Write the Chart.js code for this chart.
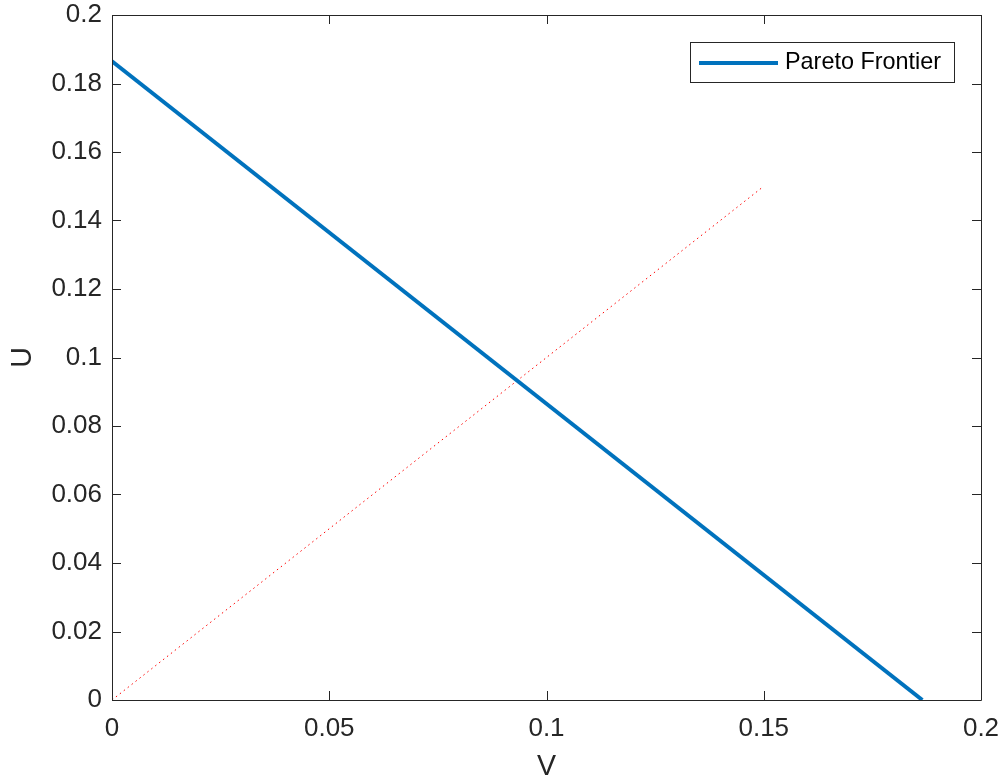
<!DOCTYPE html>
<html>
<head>
<meta charset="utf-8">
<script src="https://cdn.jsdelivr.net/npm/chart.js@4.4.1/dist/chart.umd.min.js"></script>
<style>
  html, body { margin: 0; padding: 0; background: #fff; }
  #wrap { width: 1004px; height: 781px; }
</style>
</head>
<body>
<div id="wrap"><canvas id="c" width="1004" height="781"></canvas></div>
<script>
// Dữ liệu
const frontierV = [0, 0.1865];
const frontierU = [0.1865, 0];
const diagV = [0, 0.15];
const diagU = [0, 0.15];
const xTicks = [0, 0.05, 0.1, 0.15, 0.2];
const yTicks = [0, 0.02, 0.04, 0.06, 0.08, 0.1, 0.12, 0.14, 0.16, 0.18, 0.2];
const legendLabel = 'Pareto Frontier';

const AXIS_COLOR = '#262626';
const FONT = 'Liberation Sans, Arial, Helvetica, sans-serif';

function toPoints(xs, ys) {
  return xs.map((x, i) => ({ x: x, y: ys[i] }));
}

// Vẽ khung + vạch chia hướng vào trong (kiểu MATLAB)
const boxPlugin = {
  id: 'box',
  afterDatasetsDraw(chart) {
    const { ctx, chartArea: a, scales } = chart;
    const len = 9;
    ctx.save();
    ctx.strokeStyle = AXIS_COLOR;
    ctx.lineWidth = 1;
    ctx.beginPath();
    ctx.rect(a.left + 0.5, a.top + 0.5, a.right - a.left, a.bottom - a.top);
    xTicks.forEach(v => {
      const px = Math.round(scales.x.getPixelForValue(v)) + 0.5;
      ctx.moveTo(px, a.bottom); ctx.lineTo(px, a.bottom - len);
      ctx.moveTo(px, a.top); ctx.lineTo(px, a.top + len);
    });
    yTicks.forEach(v => {
      const py = Math.round(scales.y.getPixelForValue(v)) + 0.5;
      ctx.moveTo(a.left, py); ctx.lineTo(a.left + len, py);
      ctx.moveTo(a.right, py); ctx.lineTo(a.right - len, py);
    });
    ctx.stroke();

    // Chú thích
    const lx = 690, ly = 42, lw = 264, lh = 40;
    ctx.fillStyle = '#fff';
    ctx.fillRect(lx, ly, lw, lh);
    ctx.strokeStyle = AXIS_COLOR;
    ctx.strokeRect(lx + 0.5, ly + 0.5, lw, lh);
    ctx.strokeStyle = '#0072BD';
    ctx.lineWidth = 4;
    ctx.beginPath();
    ctx.moveTo(699, ly + lh / 2 + 1);
    ctx.lineTo(778, ly + lh / 2 + 1);
    ctx.stroke();
    ctx.fillStyle = '#000';
    ctx.font = '23.4px ' + FONT;
    ctx.textBaseline = 'middle';
    ctx.fillText(legendLabel, 785, ly + lh / 2 + 1);
    ctx.restore();
  }
};

new Chart(document.getElementById('c'), {
  type: 'scatter',
  data: {
    datasets: [
      {
        label: legendLabel,
        data: toPoints(frontierV, frontierU),
        showLine: true,
        borderColor: '#0072BD',
        borderWidth: 4,
        pointRadius: 0
      },
      {
        label: 'diag',
        data: toPoints(diagV, diagU),
        showLine: true,
        borderColor: '#FF0000',
        borderWidth: 1,
        borderDash: [1.5, 3.5],
        pointRadius: 0
      }
    ]
  },
  options: {
    responsive: false,
    animation: false,
    layout: { padding: { top: 15, right: 23, left: 0, bottom: 0 } },
    plugins: { legend: { display: false }, tooltip: { enabled: false } },
    scales: {
      x: {
        type: 'linear',
        min: 0, max: 0.2,
        afterBuildTicks: s => { s.ticks = xTicks.map(v => ({ value: v })); },
        afterFit: s => { s.height = 81; s.paddingLeft = 0; s.paddingRight = 0; },
        grid: { display: false, drawTicks: false },
        border: { display: false },
        ticks: {
          color: AXIS_COLOR,
          font: { family: FONT, size: 26 },
          padding: 13,
          maxRotation: 0,
          callback: v => String(v)
        },
        title: {
          display: true, text: 'V', color: AXIS_COLOR,
          font: { family: FONT, size: 28.6 },
          padding: { top: 0, bottom: -3 }
        }
      },
      y: {
        type: 'linear',
        min: 0, max: 0.2,
        afterBuildTicks: s => { s.ticks = yTicks.map(v => ({ value: v })); },
        afterFit: s => { s.width = 112; s.paddingTop = 0; s.paddingBottom = 0; },
        grid: { display: false, drawTicks: false },
        border: { display: false },
        ticks: {
          color: AXIS_COLOR,
          font: { family: FONT, size: 26 },
          padding: 10,
          callback: v => String(v)
        },
        title: {
          display: true, text: 'U', color: AXIS_COLOR,
          font: { family: FONT, size: 28.6 },
          padding: { top: 6, bottom: 0 }
        }
      }
    }
  },
  plugins: [boxPlugin]
});
</script>
</body>
</html>
